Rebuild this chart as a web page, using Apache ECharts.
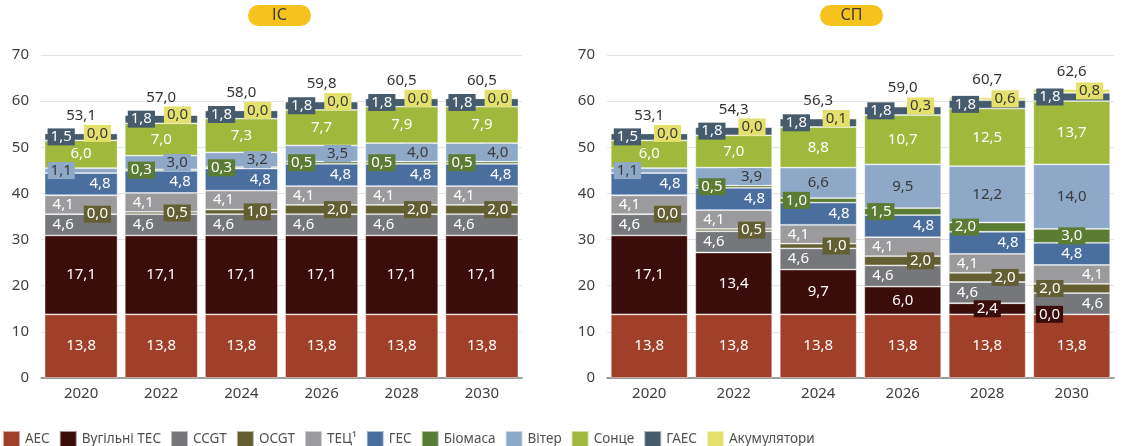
<!DOCTYPE html>
<html>
<head>
<meta charset="utf-8">
<script src="https://cdn.jsdelivr.net/npm/echarts@6/dist/echarts.min.js"></script>
<style>html,body{margin:0;padding:0;background:#fff}#c{width:1124px;height:446px}</style>
</head>
<body>
<div id="c"></div>
<script>
// ---- data ----
const years = ['2020','2022','2024','2026','2028','2030'];
const seriesNames = ['АЕС','Вугільні ТЕС','CCGT','OCGT','ТЕЦ¹','ГЕС','Біомаса','Вітер','Сонце','ГАЕС','Акумулятори'];
const yTicks = [0,10,20,30,40,50,60,70];

// ІС scenario
const isAES  = [13.8,13.8,13.8,13.8,13.8,13.8];
const isCoal = [17.1,17.1,17.1,17.1,17.1,17.1];
const isCCGT = [4.6,4.6,4.6,4.6,4.6,4.6];
const isOCGT = [0.0,0.5,1.0,2.0,2.0,2.0];
const isTEC  = [4.1,4.1,4.1,4.1,4.1,4.1];
const isGES  = [4.8,4.8,4.8,4.8,4.8,4.8];
const isBio  = [null,0.3,0.3,0.5,0.5,0.5];
const isWind = [1.1,3.0,3.2,3.5,4.0,4.0];
const isSun  = [6.0,7.0,7.3,7.7,7.9,7.9];
const isGAES = [1.5,1.8,1.8,1.8,1.8,1.8];
const isBat  = [0.0,0.0,0.0,0.0,0.0,0.0];
const isTotal= [53.1,57.0,58.0,59.8,60.5,60.5];

// СП scenario
const spAES  = [13.8,13.8,13.8,13.8,13.8,13.8];
const spCoal = [17.1,13.4,9.7,6.0,2.4,0.0];
const spCCGT = [4.6,4.6,4.6,4.6,4.6,4.6];
const spOCGT = [0.0,0.5,1.0,2.0,2.0,2.0];
const spTEC  = [4.1,4.1,4.1,4.1,4.1,4.1];
const spGES  = [4.8,4.8,4.8,4.8,4.8,4.8];
const spBio  = [null,0.5,1.0,1.5,2.0,3.0];
const spWind = [1.1,3.9,6.6,9.5,12.2,14.0];
const spSun  = [6.0,7.0,8.8,10.7,12.5,13.7];
const spGAES = [1.5,1.8,1.8,1.8,1.8,1.8];
const spBat  = [0.0,0.0,0.1,0.3,0.6,0.8];
const spTotal= [53.1,54.3,56.3,59.0,60.7,62.6];

// ---- styles ----
const FONT = '"Noto Sans", "DejaVu Sans", sans-serif';
const colors = ['#A0402A','#3B0D0A','#76777A','#635F33','#9B9B9D','#4A6F9F','#5B7C33','#8EA8C8','#A0B83C','#465B6B','#E3E16B'];
// label style per series: [textColor, badge?]
const labStyle = [
  ['#fff', false], ['#fff', true], ['#fff', false], ['#fff', true], ['#fff', false],
  ['#fff', false], ['#fff', true], ['#3a3a3a', true], ['#fff', false], ['#fff', true], ['#3a3a3a', true]
];
const posIS = [
  'CCCCCC','CCCCCC','LLLLLL','RRRRRR','LLLLLL','RRRRRR','LLLLLL','LRRRRR','CCCCCC','LLLLLL','RRRRRR'
];
const posSP = [
  'CCCCCC','CCCCCL','LLLLLR','RRRRRL','LLLLLR','RRRRRC','LLLLLC','LRCCCC','CCCCCC','LLLLLL','RRRRRR'
];

function fmt(v){ return v.toFixed(1).replace('.', ','); }

function makeLabel(si, code){
  const [tc, badge] = labStyle[si];
  const l = {
    show: true, color: tc, fontFamily: FONT, fontSize: 15,
    formatter: p => fmt(p.value)
  };
  if (badge) { l.backgroundColor = colors[si]; l.padding = [2,3,0,3]; }
  if (code === 'L') { l.position = 'insideLeft'; l.distance = badge ? 3 : 8; }
  else if (code === 'R') { l.position = 'insideRight'; l.distance = 7; }
  else { l.position = 'inside'; }
  return l;
}

function buildSeries(arrs, pos, totals, axisIdx){
  const out = arrs.map((arr, si) => ({
    name: seriesNames[si], type: 'bar', stack: 'st' + axisIdx,
    xAxisIndex: axisIdx, yAxisIndex: axisIdx,
    barWidth: '91%',
    itemStyle: { color: colors[si], borderColor: 'rgba(255,255,255,0.55)', borderWidth: 0.8 },
    data: arr.map((v, i) => v === null ? null : ({ value: v, label: makeLabel(si, pos[si][i]) })),
    emphasis: { disabled: true },
    animation: false
  }));
  out.push({
    name: 'total' + axisIdx, type: 'bar', stack: 'st' + axisIdx,
    xAxisIndex: axisIdx, yAxisIndex: axisIdx, barWidth: '91%',
    itemStyle: { color: 'transparent' },
    data: totals.map(() => 0),
    label: { show: true, position: 'top', distance: 10, color: '#333', fontFamily: FONT, fontSize: 15,
      formatter: p => fmt(totals[p.dataIndex]) },
    animation: false
  });
  return out;
}

const xAx = idx => ({
  type: 'category', gridIndex: idx, data: years,
  axisLine: { lineStyle: { color: '#7f7f7f', width: 1.5 } },
  axisTick: { show: false },
  axisLabel: { color: '#404040', fontSize: 15, fontFamily: FONT, margin: 8 }
});
const yAx = idx => ({
  type: 'value', gridIndex: idx, min: yTicks[0], max: yTicks[yTicks.length-1], interval: 10,
  axisLine: { show: false }, axisTick: { show: false },
  axisLabel: { color: '#404040', fontSize: 15, fontFamily: FONT, margin: 12 },
  splitLine: { lineStyle: { color: '#e4e4e4', width: 1 } }
});

function pill(cx, text){
  return {
    type: 'group', left: cx - 31, top: 5,
    children: [
      { type: 'rect', shape: { x: 0, y: 0, width: 63, height: 21, r: 10.5 }, style: { fill: '#F6C31E' } },
      { type: 'text', x: 31.5, y: 10.5, style: { text: text, fill: '#3a3a3a', font: '16px ' + FONT, align: 'center', verticalAlign: 'middle' } }
    ]
  };
}

const chart = echarts.init(document.getElementById('c'), null, { renderer: 'canvas' });
chart.setOption({
  animation: false,
  textStyle: { fontFamily: FONT },
  grid: [
    { left: 41, right: 1124 - 522, top: 55, bottom: 446 - 378 },
    { left: 607, right: 10, top: 55, bottom: 446 - 378 }
  ],
  xAxis: [xAx(0), xAx(1)],
  yAxis: [yAx(0), yAx(1)],
  legend: {
    data: seriesNames, left: -3, top: 425, itemWidth: 17, itemHeight: 17, itemGap: 9,
    icon: 'rect', textStyle: { color: '#505050', fontSize: 13.5, fontFamily: FONT },
    selectedMode: false
  },
  graphic: [
    pill(279, 'ІС'), pill(851, 'СП'),
    { type: 'text', left: 4, top: -12, style: { text: 'ГВт', fill: '#555', font: '14px ' + FONT } }
  ],
  series: [
    ...buildSeries([isAES,isCoal,isCCGT,isOCGT,isTEC,isGES,isBio,isWind,isSun,isGAES,isBat], posIS, isTotal, 0),
    ...buildSeries([spAES,spCoal,spCCGT,spOCGT,spTEC,spGES,spBio,spWind,spSun,spGAES,spBat], posSP, spTotal, 1)
  ]
});
</script>
</body>
</html>
